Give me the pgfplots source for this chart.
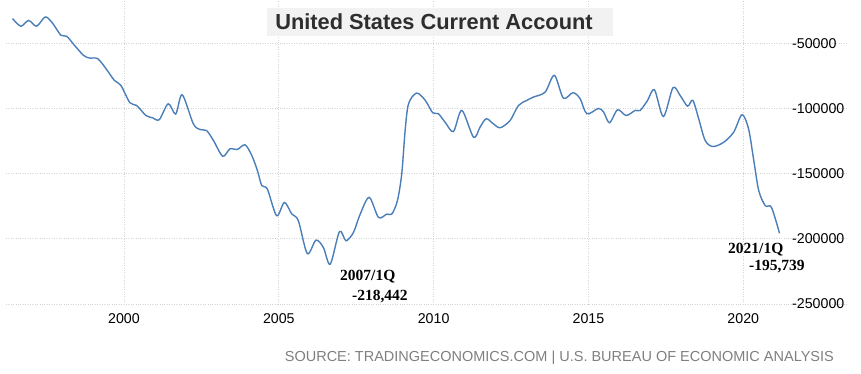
\documentclass[border=0pt]{standalone}
\usepackage{pgfplots}
\pgfplotsset{compat=1.18}
\usepackage{fontspec}
\setmainfont{Liberation Sans}
\newfontfamily\serifb{Liberation Serif}
\definecolor{linec}{HTML}{4A7EB8}
\definecolor{gridc}{HTML}{D4D4D4}
\definecolor{titlebg}{HTML}{F2F2F2}
\definecolor{titlec}{HTML}{2E2E2E}
\definecolor{srcc}{HTML}{7F7F7F}
\begin{document}
\begin{tikzpicture}
\useasboundingbox (0pt,0pt) rectangle (861pt,374pt);
\begin{axis}[
  at={(6pt,70pt)}, anchor=south west,
  scale only axis, width=841pt, height=304pt,
  xmin=1996.19, xmax=2023.35,
  ymin=-250000, ymax=-16800,
  axis line style={draw=none},
  xtick={2000,2005,2010,2015,2020},
  xticklabels={2000,2005,2010,2015,2020},
  ytick={-250000,-200000,-150000,-100000,-50000},
  yticklabels={-250000,-200000,-150000,-100000,-50000},
  scaled y ticks=false, scaled x ticks=false,
  yticklabel pos=right,
  major tick length=0pt,
  tick style={draw=none},
  grid=major,
  major grid style={gridc, dotted, line width=0.9pt},
  xticklabel style={anchor=base, inner sep=0pt, yshift=-19.3pt, font=\fontsize{14.2}{16}\selectfont},
  yticklabel style={anchor=west, inner sep=0pt, xshift=-55pt, font=\fontsize{14.2}{16}\selectfont},
  clip=false,
]
\addplot[linec, line width=1.4pt, smooth, tension=0.5] table {
x y
1996.40 -31000
1996.67 -36900
1996.92 -32500
1997.18 -36900
1997.46 -29800
1997.70 -34800
1997.96 -43800
1998.15 -44600
1998.40 -51500
1998.69 -59200
1998.88 -61300
1999.15 -61800
1999.42 -69500
1999.69 -78500
1999.90 -82300
2000.19 -95600
2000.41 -97700
2000.71 -105400
2000.93 -107200
2001.14 -108600
2001.43 -96400
2001.67 -104300
2001.88 -89500
2002.24 -111800
2002.46 -116200
2002.67 -117000
2002.89 -124600
2003.19 -136700
2003.42 -131000
2003.66 -131500
2003.91 -127900
2004.13 -136200
2004.31 -147700
2004.45 -159200
2004.63 -161800
2004.93 -182300
2005.18 -172100
2005.42 -181000
2005.63 -186000
2005.92 -211300
2006.20 -201000
2006.44 -206700
2006.66 -219500
2006.96 -194400
2007.17 -201500
2007.41 -195100
2007.63 -181000
2007.92 -168200
2008.22 -183600
2008.49 -181000
2008.65 -181000
2008.83 -170800
2008.97 -150200
2009.08 -116900
2009.19 -96400
2009.45 -88200
2009.73 -93800
2009.97 -103300
2010.15 -104000
2010.37 -110500
2010.64 -117700
2010.91 -101500
2011.29 -122100
2011.50 -114300
2011.70 -107900
2011.93 -111800
2012.15 -114800
2012.47 -109200
2012.74 -97700
2013.01 -93800
2013.22 -91300
2013.60 -87500
2013.90 -74600
2014.19 -92100
2014.50 -87900
2014.73 -92500
2014.95 -104100
2015.32 -100000
2015.49 -102800
2015.68 -111000
2015.94 -101000
2016.22 -105400
2016.51 -101500
2016.67 -101500
2016.91 -93800
2017.13 -85600
2017.42 -106200
2017.73 -84100
2017.96 -90000
2018.20 -98200
2018.37 -93800
2018.56 -107900
2018.77 -124600
2019.02 -129200
2019.37 -125900
2019.69 -118200
2019.96 -104800
2020.17 -115600
2020.34 -140000
2020.50 -163100
2020.71 -174600
2020.91 -175900
2021.17 -195739
};
\end{axis}
\fill[titlebg] (267pt,338pt) rectangle (613pt,366pt);
\node[anchor=base, inner sep=0pt, text=titlec, font=\fontsize{21.8}{24}\selectfont\bfseries] at (434pt,344pt) {United States Current Account};
\node[anchor=base west, inner sep=0pt, font=\fontsize{15.5}{17}\selectfont\serifb\bfseries] at (340pt,93pt) {2007/1Q};
\node[anchor=base west, inner sep=0pt, font=\fontsize{15.5}{17}\selectfont\serifb\bfseries] at (352pt,73pt) {-218,442};
\node[anchor=base west, inner sep=0pt, font=\fontsize{15.5}{17}\selectfont\serifb\bfseries] at (728pt,120pt) {2021/1Q};
\node[anchor=base west, inner sep=0pt, font=\fontsize{15.5}{17}\selectfont\serifb\bfseries] at (749pt,103.5pt) {-195,739};
\node[anchor=base east, inner sep=0pt, text=srcc, font=\fontsize{14.5}{16}\selectfont] at (834pt,12.5pt) {SOURCE: TRADINGECONOMICS.COM | U.S. BUREAU OF ECONOMIC ANALYSIS};
\end{tikzpicture}
\end{document}
